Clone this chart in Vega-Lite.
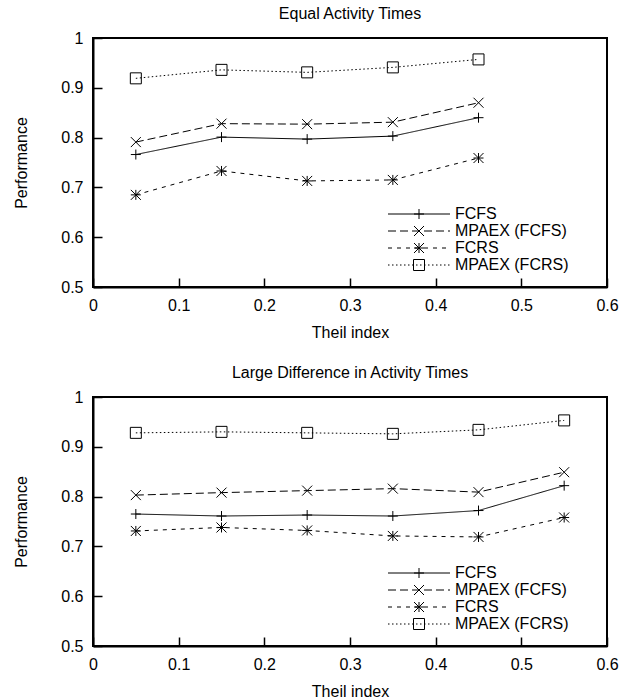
{
  "$schema": "https://vega.github.io/schema/vega-lite/v6.json",
  "padding": {"left": 12, "top": 5, "right": 5, "bottom": 0},
  "datasets": {
    "equal": [
      {"series": "FCFS", "theil": 0.05, "perf": 0.766},
      {"series": "FCFS", "theil": 0.15, "perf": 0.801},
      {"series": "FCFS", "theil": 0.25, "perf": 0.797},
      {"series": "FCFS", "theil": 0.35, "perf": 0.803},
      {"series": "FCFS", "theil": 0.45, "perf": 0.840},
      {"series": "MPAEX (FCFS)", "theil": 0.05, "perf": 0.791},
      {"series": "MPAEX (FCFS)", "theil": 0.15, "perf": 0.828},
      {"series": "MPAEX (FCFS)", "theil": 0.25, "perf": 0.827},
      {"series": "MPAEX (FCFS)", "theil": 0.35, "perf": 0.831},
      {"series": "MPAEX (FCFS)", "theil": 0.45, "perf": 0.870},
      {"series": "FCRS", "theil": 0.05, "perf": 0.685},
      {"series": "FCRS", "theil": 0.15, "perf": 0.733},
      {"series": "FCRS", "theil": 0.25, "perf": 0.713},
      {"series": "FCRS", "theil": 0.35, "perf": 0.715},
      {"series": "FCRS", "theil": 0.45, "perf": 0.759},
      {"series": "MPAEX (FCRS)", "theil": 0.05, "perf": 0.919},
      {"series": "MPAEX (FCRS)", "theil": 0.15, "perf": 0.936},
      {"series": "MPAEX (FCRS)", "theil": 0.25, "perf": 0.931},
      {"series": "MPAEX (FCRS)", "theil": 0.35, "perf": 0.941},
      {"series": "MPAEX (FCRS)", "theil": 0.45, "perf": 0.957}
    ],
    "large": [
      {"series": "FCFS", "theil": 0.05, "perf": 0.765},
      {"series": "FCFS", "theil": 0.15, "perf": 0.761},
      {"series": "FCFS", "theil": 0.25, "perf": 0.763},
      {"series": "FCFS", "theil": 0.35, "perf": 0.761},
      {"series": "FCFS", "theil": 0.45, "perf": 0.772},
      {"series": "FCFS", "theil": 0.55, "perf": 0.822},
      {"series": "MPAEX (FCFS)", "theil": 0.05, "perf": 0.803},
      {"series": "MPAEX (FCFS)", "theil": 0.15, "perf": 0.808},
      {"series": "MPAEX (FCFS)", "theil": 0.25, "perf": 0.812},
      {"series": "MPAEX (FCFS)", "theil": 0.35, "perf": 0.816},
      {"series": "MPAEX (FCFS)", "theil": 0.45, "perf": 0.809},
      {"series": "MPAEX (FCFS)", "theil": 0.55, "perf": 0.849},
      {"series": "FCRS", "theil": 0.05, "perf": 0.731},
      {"series": "FCRS", "theil": 0.15, "perf": 0.738},
      {"series": "FCRS", "theil": 0.25, "perf": 0.732},
      {"series": "FCRS", "theil": 0.35, "perf": 0.721},
      {"series": "FCRS", "theil": 0.45, "perf": 0.719},
      {"series": "FCRS", "theil": 0.55, "perf": 0.758},
      {"series": "MPAEX (FCRS)", "theil": 0.05, "perf": 0.928},
      {"series": "MPAEX (FCRS)", "theil": 0.15, "perf": 0.930},
      {"series": "MPAEX (FCRS)", "theil": 0.25, "perf": 0.928},
      {"series": "MPAEX (FCRS)", "theil": 0.35, "perf": 0.926},
      {"series": "MPAEX (FCRS)", "theil": 0.45, "perf": 0.934},
      {"series": "MPAEX (FCRS)", "theil": 0.55, "perf": 0.953}
    ]
  },
  "spacing": 23,
  "resolve": {
    "scale": {"shape": "independent", "strokeDash": "independent"},
    "legend": {"shape": "independent", "strokeDash": "independent"}
  },
  "vconcat": [
    {
      "title": "Equal Activity Times",
      "width": 514,
      "height": 249,
      "data": {"name": "equal"},
      "encoding": {
        "x": {"field": "theil", "type": "quantitative", "scale": {"domain": [0, 0.6], "nice": false, "zero": false},
              "axis": {"title": "Theil index", "values": [0, 0.1, 0.2, 0.3, 0.4, 0.5, 0.6], "format": "~g", "labelFlush": false, "titlePadding": 11}},
        "y": {"field": "perf", "type": "quantitative", "scale": {"domain": [0.5, 1], "nice": false, "zero": false},
              "axis": {"title": "Performance", "values": [0.5, 0.6, 0.7, 0.8, 0.9, 1], "format": "~g", "titlePadding": 31}}
      },
      "layer": [
        {
          "mark": {"type": "line", "color": "black", "strokeWidth": 1},
          "encoding": {
            "strokeDash": {"field": "series", "type": "nominal",
                           "scale": {"domain": ["FCFS", "MPAEX (FCFS)", "FCRS", "MPAEX (FCRS)"], "range": [[1, 0], [8, 4], [4, 5], [1.5, 2.5]]},
                           "legend": {"title": null, "orient": "none", "legendX": 318, "legendY": 168, "padding": 0, "rowPadding": 1,
                                      "symbolType": "M-6.2,0H6.2", "symbolSize": 100, "symbolStrokeWidth": 1, "symbolStrokeColor": "black", "symbolFillColor": "transparent",
                                      "labelOffset": 28, "labelFontSize": 16, "labelColor": "black"}}
          }
        },
        {
          "mark": {"type": "point", "filled": false, "color": "black", "size": 100, "strokeWidth": 1, "opacity": 1},
          "encoding": {
            "shape": {"field": "series", "type": "nominal",
                      "scale": {"domain": ["MPAEX (FCRS)", "FCRS", "MPAEX (FCFS)", "FCFS"],
                                "range": ["M-1.1,-1.1H1.1V1.1H-1.1Z", "M-1,0H1M0,-1V1M-1,-1L1,1M-1,1L1,-1", "M-1,-1L1,1M-1,1L1,-1", "M-1,0H1M0,-1V1"]},
                      "legend": {"title": null, "orient": "none", "legendX": 318, "legendY": 168, "padding": 0, "rowPadding": 1,
                                 "values": ["FCFS", "MPAEX (FCFS)", "FCRS", "MPAEX (FCRS)"],
                                 "symbolSize": 100, "symbolStrokeWidth": 1, "symbolStrokeColor": "black", "symbolFillColor": "transparent",
                                 "labelOffset": 28, "labelFontSize": 16, "labelColor": "black", "labelOpacity": 0}}
          }
        }
      ]
    },
    {
      "title": "Large Difference in Activity Times",
      "width": 514,
      "height": 249,
      "data": {"name": "large"},
      "encoding": {
        "x": {"field": "theil", "type": "quantitative", "scale": {"domain": [0, 0.6], "nice": false, "zero": false},
              "axis": {"title": "Theil index", "values": [0, 0.1, 0.2, 0.3, 0.4, 0.5, 0.6], "format": "~g", "labelFlush": false, "titlePadding": 11}},
        "y": {"field": "perf", "type": "quantitative", "scale": {"domain": [0.5, 1], "nice": false, "zero": false},
              "axis": {"title": "Performance", "values": [0.5, 0.6, 0.7, 0.8, 0.9, 1], "format": "~g", "titlePadding": 31}}
      },
      "layer": [
        {
          "mark": {"type": "line", "color": "black", "strokeWidth": 1},
          "encoding": {
            "strokeDash": {"field": "series", "type": "nominal",
                           "scale": {"domain": ["FCFS", "MPAEX (FCFS)", "FCRS", "MPAEX (FCRS)"], "range": [[1, 0], [8, 4], [4, 5], [1.5, 2.5]]},
                           "legend": {"title": null, "orient": "none", "legendX": 318, "legendY": 168, "padding": 0, "rowPadding": 1,
                                      "symbolType": "M-6.2,0H6.2", "symbolSize": 100, "symbolStrokeWidth": 1, "symbolStrokeColor": "black", "symbolFillColor": "transparent",
                                      "labelOffset": 28, "labelFontSize": 16, "labelColor": "black"}}
          }
        },
        {
          "mark": {"type": "point", "filled": false, "color": "black", "size": 100, "strokeWidth": 1, "opacity": 1},
          "encoding": {
            "shape": {"field": "series", "type": "nominal",
                      "scale": {"domain": ["MPAEX (FCRS)", "FCRS", "MPAEX (FCFS)", "FCFS"],
                                "range": ["M-1.1,-1.1H1.1V1.1H-1.1Z", "M-1,0H1M0,-1V1M-1,-1L1,1M-1,1L1,-1", "M-1,-1L1,1M-1,1L1,-1", "M-1,0H1M0,-1V1"]},
                      "legend": {"title": null, "orient": "none", "legendX": 318, "legendY": 168, "padding": 0, "rowPadding": 1,
                                 "values": ["FCFS", "MPAEX (FCFS)", "FCRS", "MPAEX (FCRS)"],
                                 "symbolSize": 100, "symbolStrokeWidth": 1, "symbolStrokeColor": "black", "symbolFillColor": "transparent",
                                 "labelOffset": 28, "labelFontSize": 16, "labelColor": "black", "labelOpacity": 0}}
          }
        }
      ]
    }
  ],
  "config": {
    "font": "Liberation Sans",
    "view": {"stroke": "black", "strokeWidth": 2},
    "axis": {
      "domainColor": "black", "domainWidth": 2, "tickColor": "black", "tickWidth": 1.5, "tickSize": -9, "labelPadding": 19,
      "labelFontSize": 16, "labelColor": "black", "labelFont": "Liberation Sans",
      "titleFontSize": 16, "titleFontWeight": "normal", "titleColor": "black", "titleFont": "Liberation Sans", "grid": false
    },
    "legend": {"labelFont": "Liberation Sans"},
    "title": {"fontSize": 16, "fontWeight": "normal", "color": "black", "font": "Liberation Sans", "baseline": "alphabetic", "offset": 8}
  }
}
